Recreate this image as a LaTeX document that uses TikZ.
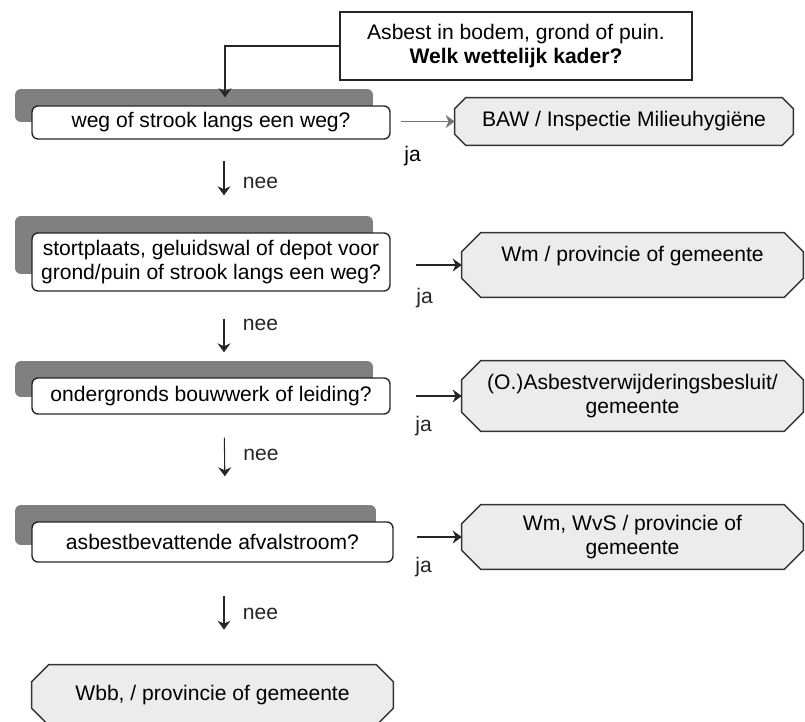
\documentclass[tikz,border=0pt]{standalone}
\usepackage{fontspec}
\setmainfont{Liberation Sans}
\usepackage{tikz}
\usetikzlibrary{arrows.meta, positioning, calc, shadows, backgrounds}

\begin{document}
\begin{tikzpicture}[x=0.02cm, y=-0.02cm,
	font=\fontsize{12}{13.6}\selectfont,
	startbox/.style={draw=black!85, thick, fill=white, minimum width=7.04cm, minimum height=1.36cm, align=center, inner sep=2pt},
	vraagbox/.style={draw=black!85, thick, fill=white, rounded corners=0.12cm, minimum width=7.16cm, align=center, inner sep=2pt,
		drop shadow={shadow xshift=-0.34cm, shadow yshift=0.34cm, fill=schaduw, opacity=1}},
	kaderbox/.style={minimum width=6.82cm, align=center, inner sep=2pt},
	kaderrand/.style={draw=black!80, thick, fill=lichtgrijs},
	pijl/.style={-{Stealth[length=1.8mm, width=2.6mm]}, semithick, black!85}]
	
	% Definizione dei colori
	\definecolor{schaduw}{RGB}{128,128,128}
	\definecolor{lichtgrijs}{RGB}{236,236,236}
	
	\useasboundingbox (0,0) rectangle (805,722);
	
	% Domanda iniziale
	\node[startbox] (start) at (516,46) {Asbest in bodem, grond of puin.\\ \textbf{Welk wettelijk kader?}};
	
	% Domande (colonna sinistra)
	\node[vraagbox, minimum height=0.66cm] (q1) at (211,122.5) {weg of strook langs een weg?};
	\node[vraagbox, minimum height=1.16cm] (q2) at (211,262) {stortplaats, geluidswal of depot voor\\ grond/puin of strook langs een weg?};
	\node[vraagbox, minimum height=0.72cm] (q3) at (211,396) {ondergronds bouwwerk of leiding?};
	\node[vraagbox, minimum height=0.8cm, minimum width=7.22cm] (q4) at (212.5,542) {asbestbevattende afvalstroom?};
	
	% Kaders (colonna destra)
	\node[kaderbox, minimum width=6.76cm, minimum height=0.94cm] (a1) at (624,121.5) {BAW / Inspectie Milieuhygiëne};
	\node[kaderbox, minimum height=1.28cm, text depth=0.43cm] (a2) at (632.5,265) {Wm / provincie of gemeente};
	\node[kaderbox, minimum height=1.4cm] (a3) at (632.5,396) {(O.)Asbestverwijderingsbesluit/\\ gemeente};
	\node[kaderbox, minimum height=1.28cm] (a4) at (632.5,537) {Wm, WvS / provincie of\\ gemeente};
	\node[kaderbox, minimum width=7.22cm, minimum height=1.2cm] (a5) at (212.5,695) {Wbb, / provincie of gemeente};
	
	% Contorno smussato dei kaders
	\begin{scope}[on background layer]
		\foreach \k/\c in {a1/0.22cm, a2/0.38cm, a3/0.38cm, a4/0.38cm, a5/0.34cm}
			\filldraw[kaderrand] ([xshift=\c]\k.north west) -- ([xshift=-\c]\k.north east) -- ([yshift=-\c]\k.north east)
				-- ([yshift=\c]\k.south east) -- ([xshift=-\c]\k.south east) -- ([xshift=\c]\k.south west)
				-- ([yshift=\c]\k.south west) -- ([yshift=-\c]\k.north west) -- cycle;
	\end{scope}
	
	% Frecce verso il basso (nee)
	\draw[pijl] (start.west) -| ([xshift=0.28cm, yshift=0.16cm]q1.north);
	\draw[pijl, shorten <=0.42cm, shorten >=0.74cm] ([xshift=0.26cm]q1.south) -- ([xshift=0.26cm]q2.north) node[pos=0.47, right=0.25cm] {nee};
	\draw[pijl, shorten <=0.54cm, shorten >=0.5cm] ([xshift=0.26cm]q2.south) -- ([xshift=0.26cm]q3.north) node[pos=0.39, right=0.25cm] {nee};
	\draw[pijl, shorten <=0.46cm, shorten >=0.9cm] ([xshift=0.26cm]q3.south) -- ([xshift=0.26cm]q4.north) node[pos=0.38, right=0.25cm] {nee};
	\draw[pijl, shorten <=0.66cm, shorten >=0.7cm] ([xshift=0.23cm]q4.south) -- ([xshift=0.23cm]a5.north) node[pos=0.5, right=0.25cm] {nee};
	
	% Frecce verso destra (ja)
	\draw[pijl, black!55, shorten <=0.2cm] (q1.east |- a1.west) -- (a1.west) node[black, at start, xshift=0.44cm, yshift=-0.7cm] {ja};
	\draw[pijl, shorten <=0.5cm] (q2.east |- a2.west) -- (a2.west) node[at start, xshift=0.68cm, yshift=-0.66cm] {ja};
	\draw[pijl, shorten <=0.5cm] (q3.east |- a3.west) -- (a3.west) node[at start, xshift=0.66cm, yshift=-0.6cm] {ja};
	\draw[pijl, shorten <=0.46cm] (q4.east |- a4.west) -- (a4.west) node[at start, xshift=0.6cm, yshift=-0.6cm] {ja};
	
\end{tikzpicture}
\end{document}
